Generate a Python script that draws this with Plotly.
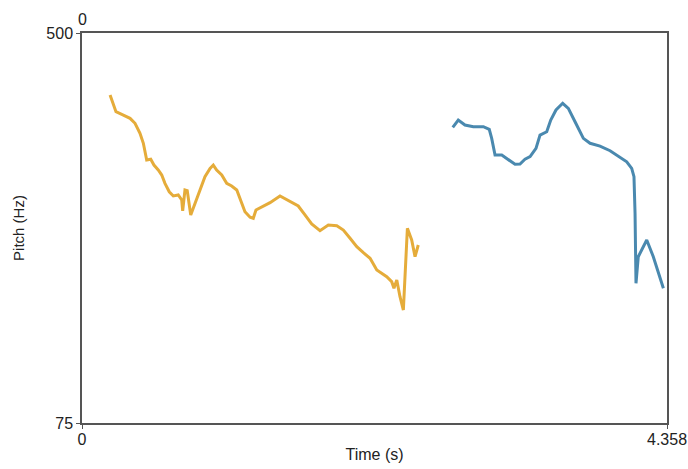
import plotly.graph_objects as go

# Segment 1 (yellow)
t1 = [0.209, 0.253, 0.308, 0.358, 0.395, 0.432, 0.457, 0.482, 0.512, 0.536, 0.568, 0.594,
      0.618, 0.650, 0.680, 0.717, 0.743, 0.750, 0.767, 0.784, 0.810, 0.842, 0.879, 0.916,
      0.954, 0.978, 1.003, 1.041, 1.078, 1.115, 1.153, 1.177, 1.214, 1.252, 1.276, 1.296,
      1.339, 1.401, 1.475, 1.550, 1.611, 1.661, 1.711, 1.773, 1.835, 1.898, 1.947, 1.997,
      2.047, 2.096, 2.146, 2.196, 2.233, 2.270, 2.307, 2.324, 2.345, 2.369, 2.394, 2.424,
      2.456, 2.481, 2.505]
f1 = [432.4, 414.2, 410.6, 407.0, 401.6, 390.7, 379.8, 361.6, 362.4, 356.1, 350.7, 345.2,
      336.2, 327.0, 322.4, 323.5, 318.0, 306.3, 328.9, 328.1, 301.7, 314.4, 330.8, 343.4,
      352.5, 356.1, 350.7, 345.2, 336.2, 333.3, 328.9, 319.9, 305.3, 299.2, 298.1, 307.1,
      310.7, 315.1, 322.4, 316.2, 311.5, 301.7, 291.9, 284.6, 290.8, 290.0, 285.3, 276.3,
      267.1, 260.6, 254.5, 241.7, 238.1, 234.4, 229.0, 221.8, 230.8, 212.6, 198.1, 287.2,
      274.4, 256.2, 269.0]

# Segment 2 (blue)
t2 = [2.762, 2.803, 2.853, 2.915, 2.990, 3.034, 3.052, 3.077, 3.127, 3.176, 3.226, 3.263,
      3.300, 3.338, 3.382, 3.412, 3.462, 3.492, 3.531, 3.581, 3.623, 3.673, 3.735, 3.785,
      3.859, 3.934, 3.995, 4.058, 4.095, 4.112, 4.120, 4.125, 4.127, 4.144, 4.207, 4.256,
      4.331]
f2 = [397.2, 405.2, 399.7, 397.9, 397.9, 395.0, 385.2, 367.0, 367.0, 362.4, 356.9, 357.2,
      362.4, 365.2, 374.3, 388.8, 392.4, 405.2, 416.1, 423.4, 417.9, 403.3, 385.2, 379.8,
      376.8, 371.7, 366.0, 359.7, 352.5, 343.4, 303.5, 267.1, 227.2, 256.2, 274.4, 256.2,
      221.8]

x_range = [0, 4.358]
y_range = [75, 500]
x_ticks = ["0", "4.358"]
y_ticks = ["75", "500"]

fig = go.Figure()
fig.add_trace(go.Scatter(x=t1, y=f1, mode="lines",
                         line=dict(color="#E5AC3A", width=3), showlegend=False))
fig.add_trace(go.Scatter(x=t2, y=f2, mode="lines",
                         line=dict(color="#4A89AF", width=3), showlegend=False))

fam = "Liberation Sans, Arial, sans-serif"
tick_font = dict(family=fam, size=16, color="#222222")
xt_font = dict(family=fam, size=16, color="#222222")
yt_font = dict(family=fam, size=15, color="#222222")
fig.update_layout(
    width=688, height=469,
    margin=dict(l=82, r=21, t=33, b=46),
    paper_bgcolor="white", plot_bgcolor="white",
    font=tick_font,
    xaxis=dict(range=x_range, tickvals=x_range, ticktext=x_ticks, automargin=False,
               showgrid=False, zeroline=False, showline=True, linecolor="#555555",
               linewidth=1.5, mirror=True, ticks="outside", ticklen=4, tickcolor="#555555",
               tickfont=tick_font, ticklabelstandoff=-3,
               title=dict(text="Time (s)", standoff=2, font=xt_font)),
    yaxis=dict(range=y_range, tickvals=y_range, ticktext=y_ticks, automargin=False,
               showgrid=False, zeroline=False, showline=True, linecolor="#555555",
               linewidth=1.5, mirror=True, ticks="outside", ticklen=4, tickcolor="#555555",
               tickfont=tick_font,
               title=dict(text="Pitch (Hz)", standoff=18, font=yt_font)),
)
fig.add_annotation(x=0, y=1, xref="x", yref="paper", text="0", showarrow=False,
                   yanchor="bottom", xanchor="center", yshift=3, font=tick_font)

fig.write_html("out.html", config={"displayModeBar": False},
               post_script="document.body.style.margin='0';document.body.style.overflow='hidden';")
